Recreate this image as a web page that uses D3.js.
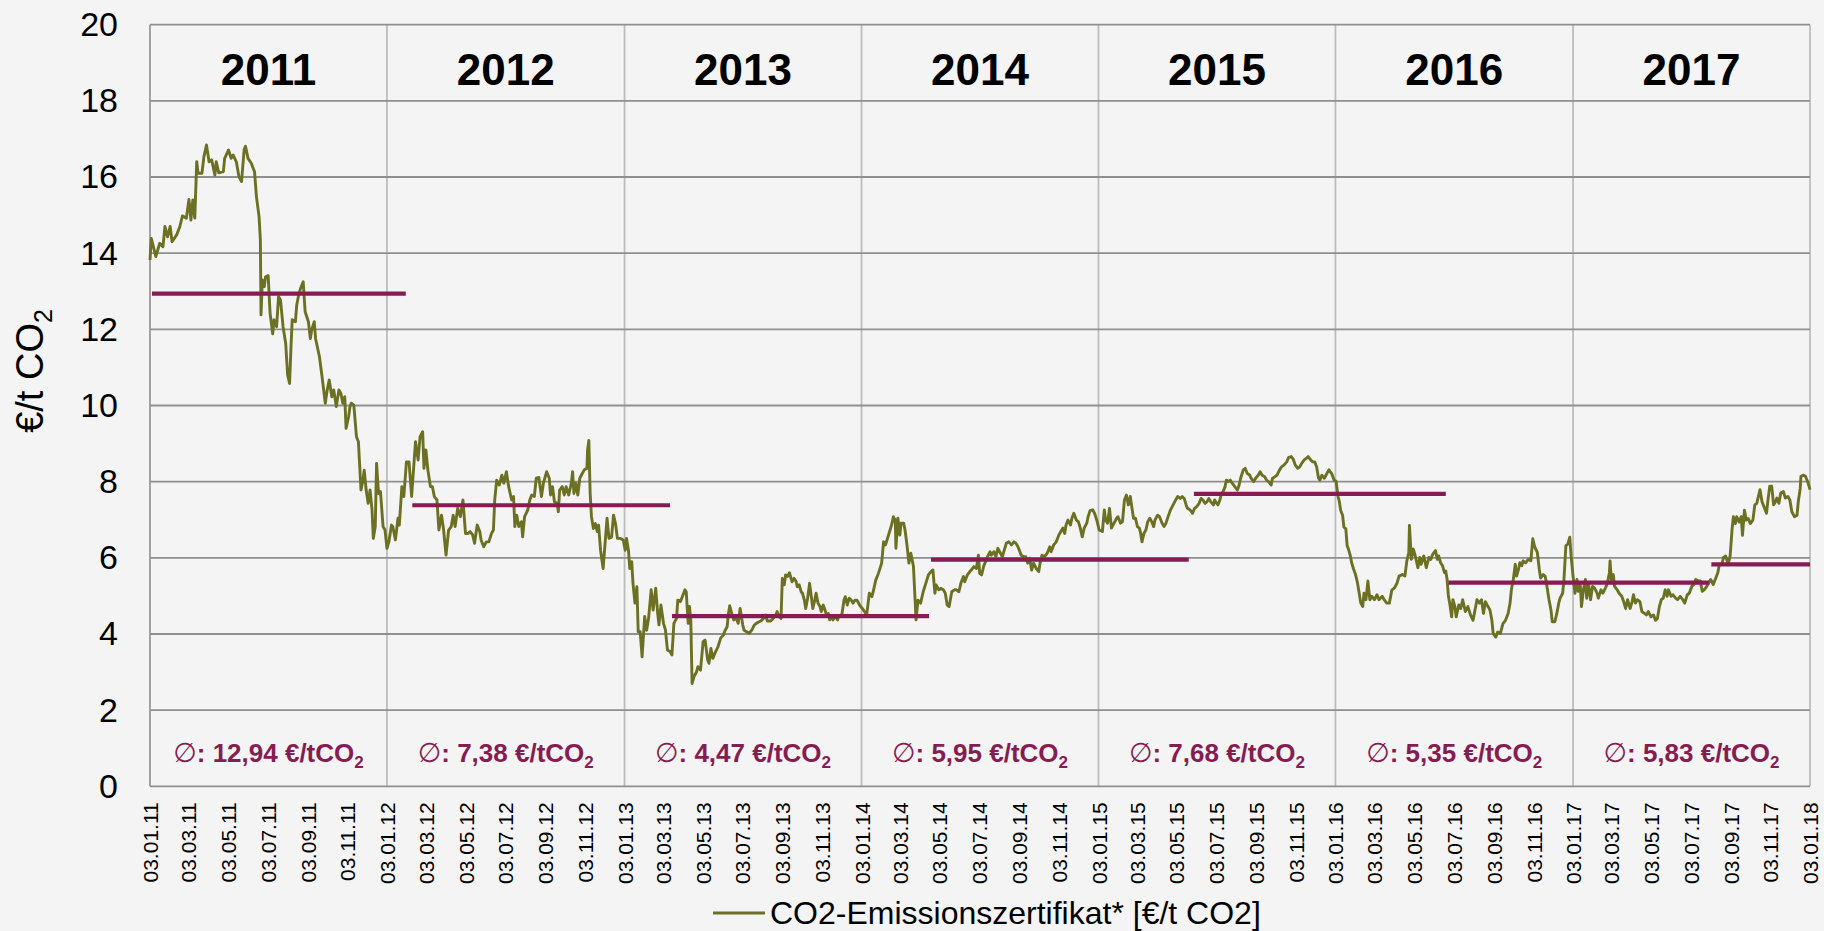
<!DOCTYPE html>
<html>
<head>
<meta charset="utf-8">
<script src="https://cdn.jsdelivr.net/npm/d3@7"></script>
<style>
  html, body { margin: 0; padding: 0; background: #f4f4f4; }
  svg { display: block; font-family: "Liberation Sans", Arial, sans-serif; }
</style>
</head>
<body>
<svg id="chart" width="1824" height="931"></svg>
<script>
// Years shown as columns and their yearly mean price (€/t CO2)
const years = ["2011", "2012", "2013", "2014", "2015", "2016", "2017"];
const yearAverages = [12.94, 7.38, 4.47, 5.95, 7.68, 5.35, 5.83];
const yearAverageLabels = ["12,94", "7,38", "4,47", "5,95", "7,68", "5,35", "5,83"];
// Date span covered by each mean bar
const averageFrom = ["2011-01-06", "2012-02-11", "2013-03-17", "2014-04-20", "2015-05-30", "2016-06-25", "2017-08-04"];
const averageTo = ["2012-02-01", "2013-03-14", "2014-04-17", "2015-05-22", "2016-06-21", "2017-07-31", "2018-01-03"];
const yTicks = [0, 2, 4, 6, 8, 10, 12, 14, 16, 18, 20];
const dateDomain = ["2011-01-03", "2018-01-03"];
const seriesName = "CO2-Emissionszertifikat* [€/t CO2]";

// Settlement price of the CO2 emission allowance [€/t CO2]
const co2Prices = [
  ["2011-01-03",13.82],["2011-01-05",14.39],["2011-01-12",13.91],["2011-01-18",14.26],["2011-01-23",14.17],["2011-01-26",14.70],["2011-01-30",14.43],["2011-02-03",14.70],["2011-02-06",14.30],["2011-02-13",14.48],["2011-02-18",14.70],["2011-02-22",14.98],["2011-02-28",14.92],["2011-03-04",15.41],["2011-03-07",14.87],["2011-03-10",15.40],["2011-03-13",14.92],["2011-03-16",16.40],["2011-03-18",16.10],["2011-03-24",16.10],["2011-03-27",16.53],["2011-03-31",16.84],["2011-04-04",16.40],["2011-04-08",16.45],["2011-04-13",16.05],["2011-04-15",16.40],["2011-04-19",16.11],["2011-04-26",16.14],["2011-04-28",16.49],["2011-05-04",16.71],["2011-05-08",16.49],["2011-05-11",16.58],["2011-05-16",16.40],["2011-05-20",16.01],["2011-05-24",15.88],["2011-05-28",16.71],["2011-05-30",16.81],["2011-06-03",16.49],["2011-06-08",16.36],["2011-06-13",16.14],["2011-06-16",15.48],["2011-06-20",14.96],["2011-06-22",14.35],["2011-06-23",12.38],["2011-06-25",13.30],["2011-06-28",13.12],["2011-06-30",13.38],["2011-07-04",13.41],["2011-07-07",12.42],["2011-07-11",11.88],["2011-07-13",12.25],["2011-07-17",12.07],["2011-07-20",12.86],["2011-07-23",12.77],["2011-07-27",12.07],["2011-07-31",11.63],["2011-08-03",10.80],["2011-08-06",10.58],["2011-08-08",11.46],["2011-08-10",12.25],["2011-08-15",12.20],["2011-08-17",12.64],["2011-08-20",12.90],["2011-08-23",13.08],["2011-08-27",13.25],["2011-08-30",12.46],["2011-09-04",12.20],["2011-09-07",11.76],["2011-09-09",11.98],["2011-09-13",12.20],["2011-09-15",11.76],["2011-09-21",11.28],["2011-09-25",10.76],["2011-09-30",10.06],["2011-10-03",10.41],["2011-10-06",10.67],["2011-10-10",10.23],["2011-10-13",10.41],["2011-10-17",9.97],["2011-10-21",10.41],["2011-10-24",10.32],["2011-10-27",10.06],["2011-10-30",10.23],["2011-11-01",9.40],["2011-11-05",9.71],["2011-11-07",9.97],["2011-11-09",10.06],["2011-11-13",10.01],["2011-11-17",9.18],["2011-11-20",9.05],["2011-11-24",7.78],["2011-11-27",8.04],["2011-11-29",8.30],["2011-12-02",7.78],["2011-12-05",7.43],["2011-12-08",7.78],["2011-12-11",7.26],["2011-12-13",6.51],["2011-12-16",6.82],["2011-12-18",8.48],["2011-12-21",7.69],["2011-12-24",7.74],["2011-12-28",6.82],["2011-12-31",6.73],
  ["2012-01-03",6.25],["2012-01-06",6.42],["2012-01-10",6.86],["2012-01-12",6.82],["2012-01-16",6.47],["2012-01-20",7.04],["2012-01-22",6.86],["2012-01-26",7.87],["2012-01-29",7.61],["2012-02-02",8.52],["2012-02-06",8.52],["2012-02-10",7.61],["2012-02-16",9.05],["2012-02-20",8.57],["2012-02-23",9.18],["2012-02-27",9.31],["2012-02-29",8.35],["2012-03-03",8.83],["2012-03-06",8.31],["2012-03-10",7.87],["2012-03-13",7.87],["2012-03-16",7.61],["2012-03-20",7.52],["2012-03-23",6.73],["2012-03-27",7.12],["2012-03-30",6.77],["2012-04-03",6.07],["2012-04-07",6.73],["2012-04-11",6.82],["2012-04-14",7.12],["2012-04-17",6.82],["2012-04-21",7.30],["2012-04-25",7.08],["2012-04-29",7.52],["2012-05-03",6.64],["2012-05-07",6.64],["2012-05-10",6.69],["2012-05-14",6.60],["2012-05-17",6.38],["2012-05-21",6.86],["2012-05-25",6.69],["2012-05-27",6.47],["2012-05-31",6.29],["2012-06-04",6.42],["2012-06-08",6.42],["2012-06-12",6.64],["2012-06-15",6.73],["2012-06-17",7.52],["2012-06-20",8.04],["2012-06-24",7.91],["2012-06-28",8.17],["2012-07-01",7.96],["2012-07-05",8.26],["2012-07-08",7.91],["2012-07-13",7.52],["2012-07-16",7.61],["2012-07-18",6.82],["2012-07-21",7.12],["2012-07-24",6.82],["2012-07-28",6.95],["2012-07-30",6.55],["2012-08-02",7.08],["2012-08-07",7.26],["2012-08-10",7.52],["2012-08-13",7.65],["2012-08-17",7.61],["2012-08-20",8.09],["2012-08-24",8.11],["2012-08-28",7.61],["2012-08-31",7.96],["2012-09-05",8.26],["2012-09-09",8.09],["2012-09-11",7.65],["2012-09-14",7.87],["2012-09-17",7.47],["2012-09-21",7.43],["2012-09-23",7.21],["2012-09-25",7.78],["2012-09-29",7.87],["2012-10-02",7.65],["2012-10-05",7.87],["2012-10-09",7.65],["2012-10-13",7.96],["2012-10-15",8.26],["2012-10-17",7.69],["2012-10-20",7.96],["2012-10-23",7.65],["2012-10-26",8.09],["2012-10-30",8.22],["2012-11-02",8.31],["2012-11-06",8.35],["2012-11-07",8.83],["2012-11-09",9.08],["2012-11-11",7.69],["2012-11-13",7.08],["2012-11-16",6.77],["2012-11-19",6.90],["2012-11-22",6.69],["2012-11-24",6.86],["2012-11-27",6.20],["2012-12-01",5.72],["2012-12-04",6.38],["2012-12-07",7.04],["2012-12-10",6.51],["2012-12-14",6.55],["2012-12-17",7.12],["2012-12-20",6.90],["2012-12-23",6.51],["2012-12-28",6.51],["2013-01-01",6.47],
  ["2013-01-04",6.20],["2013-01-06",6.51],["2013-01-09",6.20],["2013-01-11",5.72],["2013-01-14",5.90],["2013-01-16",5.33],["2013-01-19",4.81],["2013-01-22",5.24],["2013-01-24",4.06],["2013-01-27",4.06],["2013-01-30",3.40],["2013-02-03",4.46],["2013-02-06",4.10],["2013-02-09",4.41],["2013-02-13",5.16],["2013-02-16",4.63],["2013-02-20",5.20],["2013-02-23",4.54],["2013-02-25",4.24],["2013-02-28",4.76],["2013-03-04",4.28],["2013-03-07",4.10],["2013-03-10",3.58],["2013-03-14",3.54],["2013-03-17",3.45],["2013-03-20",4.28],["2013-03-24",4.41],["2013-03-26",4.89],["2013-03-30",4.85],["2013-04-02",4.98],["2013-04-06",5.16],["2013-04-08",5.11],["2013-04-11",4.28],["2013-04-13",4.72],["2013-04-15",4.37],["2013-04-17",2.70],["2013-04-20",2.88],["2013-04-24",3.01],["2013-04-26",3.14],["2013-04-30",3.05],["2013-05-04",3.80],["2013-05-07",3.84],["2013-05-11",3.32],["2013-05-13",3.23],["2013-05-16",3.62],["2013-05-19",3.36],["2013-05-22",3.49],["2013-05-27",3.67],["2013-05-31",3.89],["2013-06-04",3.97],["2013-06-07",4.10],["2013-06-10",4.19],["2013-06-12",4.54],["2013-06-14",4.74],["2013-06-17",4.54],["2013-06-20",4.37],["2013-06-24",4.41],["2013-06-27",4.28],["2013-06-30",4.67],["2013-07-04",4.24],["2013-07-06",4.10],["2013-07-10",4.06],["2013-07-14",4.02],["2013-07-18",4.10],["2013-07-22",4.24],["2013-07-27",4.30],["2013-08-01",4.34],["2013-08-05",4.41],["2013-08-08",4.50],["2013-08-11",4.34],["2013-08-16",4.34],["2013-08-20",4.41],["2013-08-24",4.50],["2013-08-26",4.59],["2013-08-29",4.46],["2013-09-01",4.41],["2013-09-03",5.46],["2013-09-06",5.29],["2013-09-08",5.55],["2013-09-11",5.51],["2013-09-14",5.61],["2013-09-18",5.37],["2013-09-21",5.46],["2013-09-24",5.39],["2013-09-26",5.24],["2013-09-29",5.29],["2013-10-02",5.11],["2013-10-04",5.07],["2013-10-07",4.89],["2013-10-09",4.67],["2013-10-12",4.94],["2013-10-15",5.33],["2013-10-17",5.07],["2013-10-20",4.67],["2013-10-23",4.89],["2013-10-25",5.07],["2013-10-28",4.81],["2013-10-31",4.72],["2013-11-02",4.59],["2013-11-05",4.76],["2013-11-07",4.67],["2013-11-10",4.50],["2013-11-13",4.54],["2013-11-15",4.37],["2013-11-18",4.46],["2013-11-20",4.37],["2013-11-24",4.46],["2013-11-27",4.37],["2013-11-29",4.46],["2013-12-02",4.46],["2013-12-04",4.54],["2013-12-07",4.89],["2013-12-09",4.98],["2013-12-12",4.76],["2013-12-15",4.94],["2013-12-18",4.89],["2013-12-21",4.81],["2013-12-24",4.89],["2013-12-27",4.89],["2013-12-31",4.76],
  ["2014-01-06",4.63],["2014-01-11",4.50],["2014-01-15",5.07],["2014-01-19",4.98],["2014-01-21",5.11],["2014-01-25",5.42],["2014-01-29",5.59],["2014-02-03",5.86],["2014-02-06",6.42],["2014-02-09",6.34],["2014-02-12",6.51],["2014-02-16",6.73],["2014-02-19",6.91],["2014-02-21",7.08],["2014-02-24",6.99],["2014-02-25",6.25],["2014-02-28",7.04],["2014-03-03",6.60],["2014-03-05",6.91],["2014-03-09",6.91],["2014-03-11",6.73],["2014-03-14",6.34],["2014-03-17",5.86],["2014-03-20",6.12],["2014-03-24",5.77],["2014-03-26",5.07],["2014-03-28",4.37],["2014-03-31",4.89],["2014-04-04",4.81],["2014-04-08",5.11],["2014-04-12",5.33],["2014-04-16",5.55],["2014-04-20",5.64],["2014-04-23",5.68],["2014-04-26",5.07],["2014-04-28",5.29],["2014-05-02",5.16],["2014-05-05",5.20],["2014-05-09",5.16],["2014-05-12",5.07],["2014-05-15",4.76],["2014-05-18",4.72],["2014-05-22",5.11],["2014-05-26",5.16],["2014-05-29",5.16],["2014-06-02",5.11],["2014-06-05",5.33],["2014-06-09",5.51],["2014-06-11",5.37],["2014-06-15",5.55],["2014-06-19",5.64],["2014-06-21",5.68],["2014-06-25",5.77],["2014-06-29",5.72],["2014-07-02",6.07],["2014-07-04",5.59],["2014-07-07",5.55],["2014-07-10",5.77],["2014-07-13",5.90],["2014-07-16",6.03],["2014-07-20",6.16],["2014-07-22",6.07],["2014-07-26",6.16],["2014-07-29",6.03],["2014-08-01",6.25],["2014-08-05",6.12],["2014-08-08",6.03],["2014-08-11",6.21],["2014-08-14",6.38],["2014-08-18",6.42],["2014-08-22",6.34],["2014-08-26",6.42],["2014-08-29",6.38],["2014-09-01",6.29],["2014-09-04",6.16],["2014-09-06",6.07],["2014-09-10",6.03],["2014-09-13",6.03],["2014-09-16",5.86],["2014-09-19",5.99],["2014-09-22",5.68],["2014-09-25",5.86],["2014-09-29",5.72],["2014-10-03",5.64],["2014-10-05",5.86],["2014-10-08",6.07],["2014-10-12",6.03],["2014-10-16",6.12],["2014-10-20",6.29],["2014-10-22",6.16],["2014-10-26",6.34],["2014-10-30",6.42],["2014-11-03",6.60],["2014-11-06",6.69],["2014-11-09",6.78],["2014-11-12",6.64],["2014-11-14",6.86],["2014-11-17",6.99],["2014-11-21",6.86],["2014-11-23",7.04],["2014-11-26",7.17],["2014-11-30",6.99],["2014-12-03",6.95],["2014-12-06",6.78],["2014-12-09",6.55],["2014-12-12",6.78],["2014-12-16",6.91],["2014-12-18",7.08],["2014-12-21",7.24],["2014-12-25",7.26],["2014-12-28",7.17],["2015-01-01",6.95],
  ["2015-01-04",6.73],["2015-01-09",6.69],["2015-01-12",7.26],["2015-01-14",6.99],["2015-01-17",6.91],["2015-01-20",7.30],["2015-01-23",6.78],["2015-01-27",6.91],["2015-01-31",7.04],["2015-02-02",7.08],["2015-02-06",6.91],["2015-02-09",6.95],["2015-02-12",7.52],["2015-02-15",7.65],["2015-02-18",7.39],["2015-02-21",7.61],["2015-02-24",7.26],["2015-02-26",7.04],["2015-03-01",7.04],["2015-03-04",6.82],["2015-03-07",6.78],["2015-03-09",6.64],["2015-03-11",6.42],["2015-03-14",6.64],["2015-03-17",6.73],["2015-03-20",6.95],["2015-03-23",7.04],["2015-03-26",6.95],["2015-03-29",6.82],["2015-03-31",6.99],["2015-04-04",7.12],["2015-04-07",7.08],["2015-04-11",6.91],["2015-04-14",6.82],["2015-04-17",6.91],["2015-04-21",7.12],["2015-04-24",7.26],["2015-04-28",7.39],["2015-05-02",7.52],["2015-05-05",7.61],["2015-05-09",7.56],["2015-05-12",7.61],["2015-05-15",7.56],["2015-05-18",7.39],["2015-05-20",7.30],["2015-05-24",7.26],["2015-05-28",7.17],["2015-05-31",7.30],["2015-06-03",7.34],["2015-06-07",7.43],["2015-06-10",7.56],["2015-06-13",7.52],["2015-06-16",7.43],["2015-06-19",7.47],["2015-06-22",7.56],["2015-06-25",7.47],["2015-06-29",7.39],["2015-07-01",7.52],["2015-07-04",7.43],["2015-07-06",7.39],["2015-07-09",7.52],["2015-07-11",7.65],["2015-07-14",7.74],["2015-07-17",7.87],["2015-07-19",8.04],["2015-07-22",8.00],["2015-07-25",8.04],["2015-07-28",7.96],["2015-08-01",7.87],["2015-08-05",7.78],["2015-08-07",7.87],["2015-08-10",8.09],["2015-08-14",8.31],["2015-08-17",8.35],["2015-08-20",8.22],["2015-08-24",8.17],["2015-08-26",8.09],["2015-08-30",8.00],["2015-09-02",8.09],["2015-09-06",8.17],["2015-09-09",8.26],["2015-09-12",8.17],["2015-09-16",8.13],["2015-09-19",8.04],["2015-09-22",8.00],["2015-09-26",7.91],["2015-09-28",8.09],["2015-10-02",8.13],["2015-10-05",8.17],["2015-10-09",8.31],["2015-10-12",8.39],["2015-10-16",8.44],["2015-10-20",8.52],["2015-10-23",8.64],["2015-10-27",8.66],["2015-10-30",8.59],["2015-11-02",8.44],["2015-11-06",8.35],["2015-11-09",8.39],["2015-11-12",8.48],["2015-11-16",8.57],["2015-11-19",8.61],["2015-11-22",8.66],["2015-11-26",8.57],["2015-11-29",8.52],["2015-12-02",8.52],["2015-12-05",8.39],["2015-12-08",8.09],["2015-12-10",8.04],["2015-12-13",8.17],["2015-12-17",8.09],["2015-12-21",8.22],["2015-12-24",8.31],["2015-12-28",8.22],["2016-01-01",8.04],
  ["2016-01-04",8.01],["2016-01-07",7.61],["2016-01-09",7.48],["2016-01-11",7.25],["2016-01-14",7.12],["2016-01-16",6.81],["2016-01-19",6.76],["2016-01-21",6.32],["2016-01-23",6.23],["2016-01-26",6.05],["2016-01-28",5.87],["2016-01-31",5.70],["2016-02-03",5.56],["2016-02-06",5.34],["2016-02-09",5.03],["2016-02-11",4.81],["2016-02-14",4.72],["2016-02-16",5.07],["2016-02-19",4.90],["2016-02-22",5.39],["2016-02-25",4.90],["2016-02-28",4.99],["2016-03-03",4.90],["2016-03-07",5.03],["2016-03-10",4.90],["2016-03-15",4.99],["2016-03-18",4.90],["2016-03-22",4.81],["2016-03-26",4.81],["2016-03-30",5.16],["2016-04-03",5.21],["2016-04-07",5.34],["2016-04-10",5.52],["2016-04-15",5.56],["2016-04-19",5.52],["2016-04-22",5.92],["2016-04-25",6.14],["2016-04-26",6.85],["2016-04-29",5.96],["2016-05-02",6.23],["2016-05-05",6.05],["2016-05-09",5.74],["2016-05-12",6.01],["2016-05-14",5.83],["2016-05-18",6.05],["2016-05-22",5.74],["2016-05-26",6.01],["2016-05-29",5.96],["2016-06-01",6.10],["2016-06-05",6.19],["2016-06-08",5.96],["2016-06-10",6.05],["2016-06-13",5.87],["2016-06-16",5.79],["2016-06-19",5.61],["2016-06-21",5.65],["2016-06-23",5.43],["2016-06-25",4.99],["2016-06-27",4.81],["2016-06-30",4.45],["2016-07-02",4.90],["2016-07-05",4.72],["2016-07-07",4.45],["2016-07-11",4.76],["2016-07-14",4.67],["2016-07-17",4.90],["2016-07-21",4.59],["2016-07-25",4.72],["2016-07-29",4.50],["2016-08-02",4.36],["2016-08-05",4.63],["2016-08-08",4.90],["2016-08-12",4.81],["2016-08-15",4.90],["2016-08-18",4.54],["2016-08-21",4.85],["2016-08-25",4.72],["2016-08-28",4.63],["2016-08-31",4.36],["2016-09-02",4.01],["2016-09-06",3.92],["2016-09-09",4.05],["2016-09-13",4.01],["2016-09-17",4.27],["2016-09-21",4.36],["2016-09-25",4.54],["2016-09-28",4.81],["2016-09-30",5.16],["2016-10-03",5.43],["2016-10-06",5.83],["2016-10-08",5.52],["2016-10-11",5.70],["2016-10-13",5.87],["2016-10-16",5.79],["2016-10-18",5.92],["2016-10-22",5.87],["2016-10-26",5.96],["2016-10-30",5.92],["2016-11-02",6.50],["2016-11-05",6.28],["2016-11-09",6.14],["2016-11-12",5.70],["2016-11-14",5.47],["2016-11-18",5.56],["2016-11-21",5.52],["2016-11-23",5.34],["2016-11-27",4.90],["2016-11-30",4.63],["2016-12-02",4.32],["2016-12-06",4.32],["2016-12-09",4.54],["2016-12-12",4.81],["2016-12-14",4.94],["2016-12-18",5.07],["2016-12-20",5.43],["2016-12-23",6.32],["2016-12-26",6.36],["2016-12-29",6.54],["2016-12-31",6.05],
  ["2017-01-03",5.52],["2017-01-06",5.07],["2017-01-09",5.43],["2017-01-11",5.12],["2017-01-14",5.34],["2017-01-16",4.72],["2017-01-19",5.16],["2017-01-22",5.43],["2017-01-24",4.94],["2017-01-27",5.30],["2017-01-30",4.90],["2017-02-02",5.25],["2017-02-05",5.21],["2017-02-09",5.07],["2017-02-11",4.94],["2017-02-15",5.16],["2017-02-18",5.07],["2017-02-22",5.21],["2017-02-25",5.34],["2017-02-28",5.61],["2017-03-01",5.92],["2017-03-03",5.43],["2017-03-06",5.56],["2017-03-08",5.25],["2017-03-12",5.16],["2017-03-15",5.07],["2017-03-19",4.99],["2017-03-22",4.85],["2017-03-25",4.67],["2017-03-28",4.90],["2017-04-01",4.67],["2017-04-04",4.85],["2017-04-06",5.03],["2017-04-09",4.81],["2017-04-12",4.90],["2017-04-16",4.85],["2017-04-19",4.59],["2017-04-23",4.54],["2017-04-26",4.50],["2017-04-29",4.59],["2017-05-03",4.45],["2017-05-07",4.50],["2017-05-10",4.36],["2017-05-13",4.41],["2017-05-16",4.72],["2017-05-19",4.90],["2017-05-22",4.94],["2017-05-25",5.16],["2017-05-28",4.99],["2017-05-30",5.16],["2017-06-03",4.99],["2017-06-06",5.03],["2017-06-10",4.94],["2017-06-13",4.90],["2017-06-17",4.99],["2017-06-21",4.90],["2017-06-24",4.81],["2017-06-28",5.03],["2017-07-01",5.07],["2017-07-05",5.25],["2017-07-08",5.30],["2017-07-11",5.43],["2017-07-15",5.39],["2017-07-18",5.39],["2017-07-21",5.12],["2017-07-24",5.16],["2017-07-28",5.25],["2017-07-31",5.34],["2017-08-03",5.43],["2017-08-07",5.30],["2017-08-10",5.43],["2017-08-14",5.61],["2017-08-16",5.79],["2017-08-20",5.83],["2017-08-23",6.01],["2017-08-26",6.05],["2017-08-30",5.83],["2017-09-02",6.05],["2017-09-05",6.76],["2017-09-07",7.08],["2017-09-10",6.90],["2017-09-12",7.08],["2017-09-16",6.94],["2017-09-19",7.08],["2017-09-21",6.59],["2017-09-24",7.25],["2017-09-27",6.99],["2017-09-30",7.03],["2017-10-03",6.90],["2017-10-07",6.99],["2017-10-10",7.39],["2017-10-13",7.43],["2017-10-16",7.65],["2017-10-18",7.79],["2017-10-21",7.48],["2017-10-25",7.30],["2017-10-28",7.17],["2017-10-30",7.48],["2017-11-02",7.88],["2017-11-05",7.88],["2017-11-08",7.39],["2017-11-11",7.48],["2017-11-13",7.57],["2017-11-16",7.43],["2017-11-19",7.70],["2017-11-23",7.74],["2017-11-26",7.57],["2017-11-30",7.61],["2017-12-03",7.52],["2017-12-06",7.21],["2017-12-10",7.08],["2017-12-14",7.12],["2017-12-16",7.48],["2017-12-19",7.83],["2017-12-20",8.14],["2017-12-24",8.17],["2017-12-27",8.14],["2017-12-31",7.97],["2018-01-03",7.79]
];

const parse = d3.timeParse("%Y-%m-%d");
const prices = co2Prices.map(([d, v]) => ({ date: parse(d), value: v }));
const averages = years.map((yr, i) => ({
  year: yr,
  value: yearAverages[i],
  label: yearAverageLabels[i],
  from: parse(averageFrom[i]),
  to: parse(averageTo[i])
}));

const svg = d3.select("#chart");
const plot = { left: 150, right: 1810, top: 24.7, bottom: 786.3 };

const x = d3.scaleTime()
  .domain(dateDomain.map(parse))
  .range([plot.left, plot.right]);
const y = d3.scaleLinear()
  .domain([0, 20])
  .range([plot.bottom, plot.top]);

const olive = "#6b7022";
const berry = "#861d52";

// Year columns: boundaries on the 3rd of January each year
const yearStarts = years.map(yr => parse(yr + "-01-03"));
const yearEdges = yearStarts.concat([x.domain()[1]]);

// Vertical year separators
svg.append("g")
  .selectAll("line")
  .data(yearEdges.slice(1))
  .join("line")
  .attr("x1", d => x(d)).attr("x2", d => x(d))
  .attr("y1", plot.top).attr("y2", plot.bottom)
  .attr("stroke", "#bdbdbd")
  .attr("stroke-width", 1.8);

// Left axis line
svg.append("line")
  .attr("x1", plot.left).attr("x2", plot.left)
  .attr("y1", plot.top).attr("y2", plot.bottom)
  .attr("stroke", "#9a9a9a")
  .attr("stroke-width", 1.8);

// Horizontal gridlines
svg.append("g")
  .selectAll("line")
  .data(yTicks)
  .join("line")
  .attr("x1", plot.left).attr("x2", plot.right)
  .attr("y1", d => y(d)).attr("y2", d => y(d))
  .attr("stroke", "#8f8f8f")
  .attr("stroke-width", 1.8);

// Y axis labels
const yAxis = svg.append("g")
  .attr("transform", `translate(${plot.left},0)`)
  .call(d3.axisLeft(y).tickValues(yTicks).tickSize(0).tickPadding(32));
yAxis.select(".domain").remove();
yAxis.selectAll("text")
  .attr("font-family", "'Liberation Sans', Arial, sans-serif")
  .attr("font-size", 34)
  .attr("fill", "#000");

// X axis: a date label every two months
const tickDates = d3.timeMonth.range(new Date(2011, 0, 1), new Date(2018, 0, 2), 2)
  .map(d => d3.timeDay.offset(d, 2));
const xAxis = svg.append("g")
  .attr("transform", `translate(0,${plot.bottom})`)
  .call(d3.axisBottom(x).tickValues(tickDates).tickSize(0).tickFormat(d3.timeFormat("%d.%m.%y")));
xAxis.select(".domain").remove();
xAxis.selectAll("text")
  .attr("font-family", "'Liberation Sans', Arial, sans-serif")
  .attr("font-size", 21)
  .attr("fill", "#000")
  .attr("transform", "rotate(-90)")
  .attr("x", -16)
  .attr("y", 0)
  .attr("dy", "0.36em")
  .style("text-anchor", "end");

// Year headings
svg.append("g")
  .selectAll("text")
  .data(years)
  .join("text")
  .attr("x", (d, i) => (x(yearEdges[i]) + x(yearEdges[i + 1])) / 2)
  .attr("y", 85)
  .attr("text-anchor", "middle")
  .attr("font-size", 44)
  .attr("font-weight", "bold")
  .attr("fill", "#000")
  .text(d => d);

// Price line
const line = d3.line()
  .x(d => x(d.date))
  .y(d => y(d.value));
svg.append("path")
  .datum(prices)
  .attr("d", line)
  .attr("fill", "none")
  .attr("stroke", olive)
  .attr("stroke-width", 2.9)
  .attr("stroke-linejoin", "round");

// Yearly mean bars
svg.append("g")
  .selectAll("line")
  .data(averages)
  .join("line")
  .attr("x1", d => x(d.from)).attr("x2", d => x(d.to))
  .attr("y1", d => y(d.value)).attr("y2", d => y(d.value))
  .attr("stroke", berry)
  .attr("stroke-width", 4.2);

// Mean labels at the bottom of each year column
const avgText = svg.append("g")
  .selectAll("text")
  .data(averages)
  .join("text")
  .attr("x", (d, i) => (x(yearEdges[i]) + x(yearEdges[i + 1])) / 2)
  .attr("y", 762)
  .attr("text-anchor", "middle")
  .attr("font-size", 26)
  .attr("font-weight", "bold")
  .attr("fill", berry);
avgText.append("tspan")
  .attr("font-family", "'DejaVu Sans', sans-serif")
  .attr("font-weight", "normal")
  .attr("font-size", 27)
  .text("\u2205");
avgText.append("tspan").text(d => `: ${d.label} €/tCO`);
avgText.append("tspan")
  .attr("font-size", 17)
  .attr("dy", 6)
  .text("2");

// Y axis title
const yTitle = svg.append("text")
  .attr("transform", "translate(43,371) rotate(-90)")
  .attr("text-anchor", "middle")
  .attr("font-size", 38)
  .attr("fill", "#000");
yTitle.append("tspan").text("€/t CO");
yTitle.append("tspan").attr("font-size", 25).attr("dy", 9).text("2");

// Legend
const legend = svg.append("g");
legend.append("line")
  .attr("x1", 713).attr("x2", 765)
  .attr("y1", 913).attr("y2", 913)
  .attr("stroke", olive)
  .attr("stroke-width", 3);
legend.append("text")
  .attr("x", 770)
  .attr("y", 924)
  .attr("font-size", 32)
  .attr("fill", "#000")
  .text(seriesName);
</script>
</body>
</html>
